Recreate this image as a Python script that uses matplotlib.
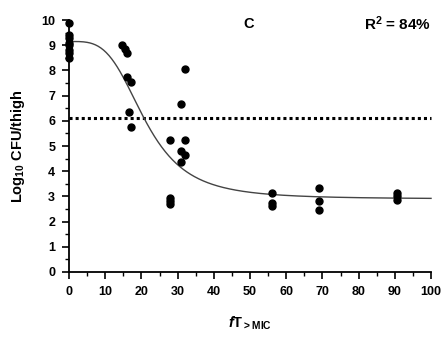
import numpy as np
import matplotlib
matplotlib.use("Agg")
import matplotlib.pyplot as plt
from matplotlib.ticker import MultipleLocator

plt.rcParams['font.family'] = ['Liberation Sans', 'DejaVu Sans']
plt.rcParams['mathtext.fontset'] = 'custom'
plt.rcParams['mathtext.rm'] = 'Liberation Sans:bold'
plt.rcParams['mathtext.bf'] = 'Liberation Sans:bold'
plt.rcParams['mathtext.it'] = 'Liberation Sans:bold:italic'

# observed data: fT>MIC (%) and log10 CFU/thigh
x_pts = [0, 0, 0, 0, 0, 0, 0, 0,
         14.5, 15.5, 16, 16, 17, 16.5, 17,
         28, 28, 28, 28,
         32, 31, 32, 31, 32, 31,
         56, 56, 56,
         69, 69, 69,
         90.5, 90.5, 90.5]
y_pts = [9.9, 9.4, 9.3, 9.1, 9.0, 8.8, 8.7, 8.5,
         9.0, 8.85, 8.7, 7.75, 7.55, 6.35, 5.75,
         5.25, 2.95, 2.8, 2.7,
         8.05, 6.65, 5.25, 4.8, 4.65, 4.35,
         3.15, 2.75, 2.6,
         3.35, 2.8, 2.45,
         3.15, 3.0, 2.85]

# sigmoid Emax model parameters
E0 = 9.15
Emax = 6.25
EC50 = 21.0
hill = 3.6
stasis = 6.1

xticks = [0, 10, 20, 30, 40, 50, 60, 70, 80, 90, 100]
yticks = [0, 1, 2, 3, 4, 5, 6, 7, 8, 9, 10]

fig = plt.figure(figsize=(4.43, 3.4), dpi=100)
ax = fig.add_axes([0.156, 0.2, 0.817, 0.741])

xc = np.linspace(0, 100, 400)
yc = E0 - Emax * xc**hill / (EC50**hill + xc**hill)
ax.plot(xc, yc, color='#444444', lw=1.0, zorder=2)
ax.axhline(stasis, color='black', lw=2.2, linestyle=(0, (1, 1)), zorder=1)
ax.plot(x_pts, y_pts, 'o', color='black', ms=5, zorder=3)

ax.set_xlim(0, 100)
ax.set_ylim(0, 10)
ax.set_xticks(xticks)
ax.set_yticks(yticks)
ax.xaxis.set_minor_locator(MultipleLocator(5))
ax.yaxis.set_minor_locator(MultipleLocator(0.5))
ax.tick_params(which='major', length=5, width=1.2, direction='out', labelsize=9, pad=5)
ax.tick_params(which='minor', length=3, width=1.0, direction='out')
for lbl in ax.get_xticklabels() + ax.get_yticklabels():
    lbl.set_fontweight('bold')
for s in ['top', 'right']:
    ax.spines[s].set_visible(False)
for s in ['left', 'bottom']:
    ax.spines[s].set_linewidth(1.3)
for art in ax.lines:
    art.set_clip_on(False)

ax.set_ylabel(r'Log$_{\mathrm{10}}$ CFU/thigh', fontsize=10.5, fontweight='bold', labelpad=10)
ax.set_xlabel(r'$\mathit{f}$T$_{\mathrm{>MIC}}$', fontsize=10.5, fontweight='bold', labelpad=12)
ax.text(49.5, 9.85, 'C', fontsize=10.5, fontweight='bold', ha='center', va='center')
ax.text(100, 9.85, r'R$^{\mathrm{2}}$ = 84%', fontsize=11, fontweight='bold', ha='right', va='center')

fig.savefig('out.png', dpi=100)
